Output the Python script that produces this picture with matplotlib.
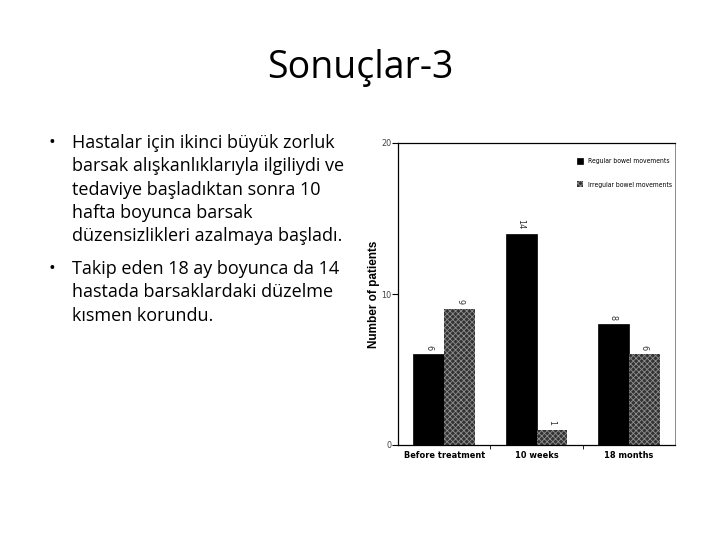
import matplotlib.pyplot as plt
import numpy as np

# data
categories = ['Before treatment', '10 weeks', '18 months']
regular = [6, 14, 8]
irregular = [9, 1, 6]
series_names = ['Regular bowel movements', 'Irregular bowel movements']

title = 'Sonuçlar-3'
bullets = [
    ['Hastalar için ikinci büyük zorluk',
     'barsak alışkanlıklarıyla ilgiliydi ve',
     'tedaviye başladıktan sonra 10',
     'hafta boyunca barsak',
     'düzensizlikleri azalmaya başladı.'],
    ['Takip eden 18 ay boyunca da 14',
     'hastada barsaklardaki düzelme',
     'kısmen korundu.'],
]

W, H = 720, 540
fig = plt.figure(figsize=(7.2, 5.4), dpi=100)
fig.patch.set_facecolor('white')

# slide title
fig.text(360 / W, 1 - 68 / H, title, ha='center', va='center',
         fontsize=27, family='Open Sans', color='black')

# bullet text
y = 143
for para in bullets:
    fig.text(49 / W, 1 - y / H, '•', ha='left', va='center', fontsize=13,
             family='Open Sans')
    for line in para:
        fig.text(72 / W, 1 - y / H, line, ha='left', va='center',
                 fontsize=13, family='Open Sans', color='black')
        y += 23.3
    y += 9.5

# chart
cond = dict(family='DejaVu Sans', fontstretch='condensed')
plt.rcParams['hatch.linewidth'] = 0.6
ax = fig.add_axes([398 / W, 1 - 445 / H, (675 - 398) / W, (445 - 143) / H])
x = np.arange(len(categories))
w = 0.335
b1 = ax.bar(x - w / 2, regular, w, color='black', edgecolor='black',
            linewidth=0.5, label=series_names[0])
b2 = ax.bar(x + w / 2, irregular, w, color='#333333', edgecolor='#8f8f8f',
            hatch='xxxxxx', linewidth=0, label=series_names[1])

for bars, vals in [(b1, regular), (b2, irregular)]:
    for r, v in zip(bars, vals):
        ax.text(r.get_x() + r.get_width() / 2, v + 0.3, str(v), rotation=270,
                ha='center', va='bottom', fontsize=6.5, color='#333333', **cond)

ax.set_xlim(-0.5, 2.5)
ax.set_ylim(0, 20)
ax.set_yticks([0, 10, 20])
ax.set_yticklabels(['0', '10', '20'], fontsize=6.5, color='#444444', **cond)
ax.set_xticks(x)
ax.set_xticklabels(categories, fontsize=6.6, fontweight='bold', **cond)
ax.tick_params(axis='x', length=0, pad=4)
ax.tick_params(axis='y', length=4, width=0.8, pad=1)
ax.set_xticks([0.5, 1.5], minor=True)
ax.tick_params(axis='x', which='minor', length=3, width=0.6)
ax.set_ylabel('Number of patients', fontsize=8.5, fontweight='bold',
              family='Liberation Sans', labelpad=1)
for s in ax.spines.values():
    s.set_linewidth(0.9)
ax.spines['right'].set_color('#777777')
ax.spines['right'].set_linewidth(0.6)

ax.legend(loc='upper right', frameon=False, bbox_to_anchor=(1.0, 0.962),
          handlelength=0.8, handleheight=1.0, labelspacing=2.5,
          borderaxespad=0.1, handletextpad=0.7,
          prop={'family': 'DejaVu Sans', 'stretch': 'condensed', 'size': 4.9})

fig.savefig('out.png', dpi=100, facecolor='white')
